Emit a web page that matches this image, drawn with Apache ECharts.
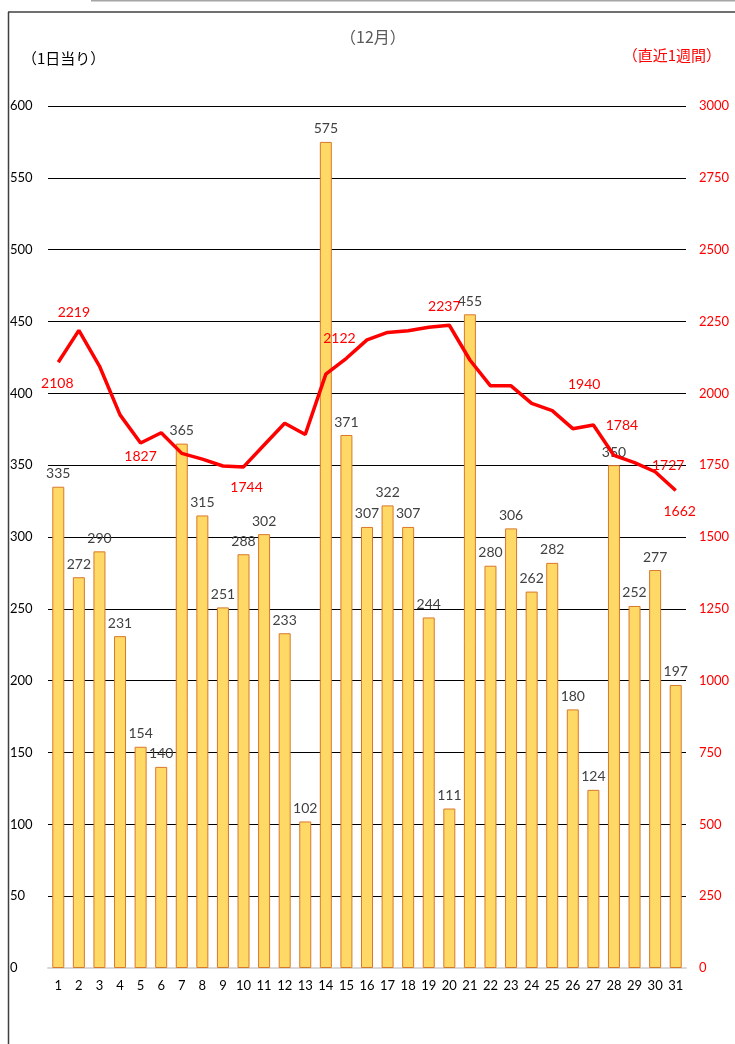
<!DOCTYPE html>
<html>
<head>
<meta charset="utf-8">
<script src="https://cdn.jsdelivr.net/npm/echarts@6/dist/echarts.min.js"></script>
<style>
  html, body { margin: 0; padding: 0; background: #fff; }
  #chart { width: 735px; height: 1044px; }
</style>
</head>
<body>
<div id="chart"></div>
<script>
// 日付（12月）
const days = ['1','2','3','4','5','6','7','8','9','10','11','12','13','14','15','16','17','18','19','20','21','22','23','24','25','26','27','28','29','30','31']
// 1日当り
const dailyCounts = [335,272,290,231,154,140,365,315,251,288,302,233,102,575,371,307,322,307,244,111,455,280,306,262,282,180,124,350,252,277,197]
// 直近1週間
const weeklyCounts = [2108,2219,2095,1925,1827,1863,1791,1771,1747,1744,1820,1896,1857,2067,2122,2186,2212,2218,2230,2237,2116,2026,2026,1965,1940,1877,1890,1784,1759,1727,1662]
const leftTicks = [0,50,100,150,200,250,300,350,400,450,500,550,600]
const rightTicks = [0,250,500,750,1000,1250,1500,1750,2000,2250,2500,2750,3000]

// ラベルを出す日と位置（見た目用）
const lineLabelPlace = {
  1: { position: 'bottom', offset: [-1, 9] },
  2: { position: 'top', offset: [-5, -6] },
  5: { position: 'bottom', offset: [0, 1] },
  10: { position: 'bottom', offset: [3, 9] },
  15: { position: 'top', offset: [-7, -8] },
  20: { position: 'top', offset: [-5, -7] },
  25: { position: 'top', offset: [32, -14] },
  28: { position: 'top', offset: [8, -18] },
  30: { position: 'top', offset: [13, 6] },
  31: { position: 'bottom', offset: [4, 9] }
}

const numFont = 'Lato, "Noto Sans", sans-serif'
const jpFont = '"Noto Sans CJK JP", sans-serif'

const lineData = weeklyCounts.map((v, i) => {
  const p = lineLabelPlace[i + 1]
  if (!p) return { value: v, label: { show: false } }
  return { value: v, label: { show: true, position: p.position, offset: p.offset } }
})

const chart = echarts.init(document.getElementById('chart'))
chart.setOption({
  animation: false,
  grid: { left: 48, right: 49, top: 106, bottom: 76 },
  graphic: [
    { type: 'line', shape: { x1: 91, y1: 0.5, x2: 735, y2: 0.5 }, style: { stroke: '#a6a6a6', lineWidth: 2 } },
    { type: 'line', shape: { x1: 8, y1: 12, x2: 735, y2: 12 }, style: { stroke: '#404040', lineWidth: 1.5 } },
    { type: 'line', shape: { x1: 8.5, y1: 12, x2: 8.5, y2: 1044 }, style: { stroke: '#404040', lineWidth: 1.5 } },
    { type: 'text', left: 340, top: 29, style: { text: '（12月）', fill: '#595959', font: '16px ' + jpFont } },
    { type: 'text', left: 22, top: 51, style: { text: '（1日当り）', fill: '#000', font: '15px ' + jpFont } },
    { type: 'text', right: 14, top: 48, style: { text: '（直近1週間）', fill: '#ff0000', font: '15px ' + jpFont } }
  ],
  xAxis: {
    type: 'category',
    data: days,
    axisTick: { show: false },
    axisLine: { lineStyle: { color: '#d9d9d9', width: 2 } },
    axisLabel: { color: '#000', fontSize: 13, fontFamily: numFont, margin: 11, interval: 0 }
  },
  yAxis: [
    {
      type: 'value', min: leftTicks[0], max: leftTicks[leftTicks.length - 1], interval: 50,
      axisLine: { show: false }, axisTick: { show: false },
      splitLine: { lineStyle: { color: '#000', width: 1 } },
      axisLabel: { color: '#000', fontSize: 13, fontFamily: numFont, align: 'left', margin: 38 }
    },
    {
      type: 'value', min: rightTicks[0], max: rightTicks[rightTicks.length - 1], interval: 250,
      axisLine: { show: false }, axisTick: { show: false }, splitLine: { show: false },
      axisLabel: { color: '#ff0000', fontSize: 13, fontFamily: numFont, margin: 13, formatter: v => String(v) }
    }
  ],
  series: [
    {
      type: 'bar',
      data: dailyCounts,
      barWidth: 12,
      itemStyle: { color: '#ffd966', borderColor: '#d9782b', borderWidth: 1 },
      label: { show: true, position: 'top', color: '#404040', fontSize: 14, fontFamily: numFont, distance: 6 }
    },
    {
      type: 'line',
      yAxisIndex: 1,
      data: lineData,
      showSymbol: true,
      symbol: 'circle',
      symbolSize: 0.1,
      z: 3,
      lineStyle: { color: '#ff0000', width: 3.5 },
      itemStyle: { color: 'rgba(255,0,0,0)' },
      label: { color: '#ff0000', fontSize: 14, fontFamily: numFont }
    }
  ]
})
</script>
</body>
</html>
